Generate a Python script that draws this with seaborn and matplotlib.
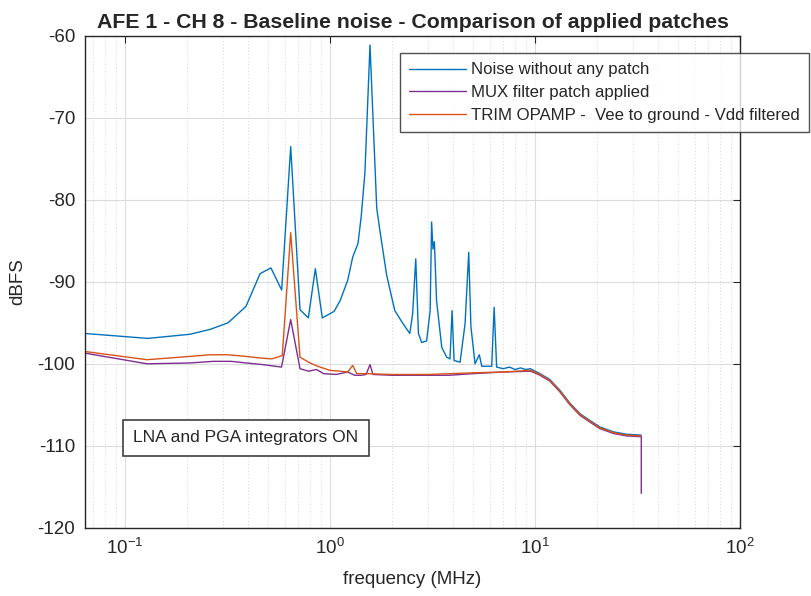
import numpy as np
import pandas as pd
import matplotlib
matplotlib.use("Agg")
import matplotlib.pyplot as plt
import seaborn as sns
from matplotlib.ticker import LogLocator, LogFormatterMathtext, NullFormatter

# ---------------- data ----------------
noise_freq = [0.0638, 0.129, 0.207, 0.26, 0.318, 0.389, 0.456, 0.515, 0.581, 0.643,
              0.714, 0.784, 0.848, 0.917, 1.047, 1.12, 1.22, 1.29, 1.37, 1.42, 1.48,
              1.567, 1.69, 1.75, 1.89, 2.07, 2.27, 2.45, 2.53, 2.62, 2.70, 2.80, 2.96,
              3.08, 3.13, 3.18, 3.23, 3.31, 3.51, 3.71, 3.85, 3.94, 4.03, 4.31, 4.56,
              4.75, 4.87, 5.10, 5.35, 5.50, 6.15, 6.32, 6.50, 7.0, 7.5, 8.0, 8.5, 9.0,
              9.5, 10.0, 10.4, 11.8, 13.2, 14.8, 16.6, 18.5, 20.7, 24.1, 28.0, 33.0]
noise_db = [-96.3, -96.9, -96.4, -95.8, -95.0, -93.0, -89.0, -88.3, -91.0, -73.5,
            -93.4, -94.4, -88.4, -94.4, -93.6, -92.3, -89.8, -87.0, -85.3, -82.0, -76.7,
            -61.1, -81.0, -83.7, -89.2, -93.5, -95.1, -96.3, -93.9, -87.2, -96.3, -97.4, -97.2,
            -93.5, -82.7, -86.0, -85.1, -92.3, -98.0, -99.2, -99.4, -93.5, -99.6, -99.8, -95.1,
            -86.4, -95.5, -100.0, -98.9, -100.3, -100.3, -93.1, -100.4, -100.6, -100.4, -100.7, -100.5, -100.7,
            -100.6, -100.9, -101.1, -101.9, -103.2, -104.8, -106.1, -106.9, -107.7, -108.3, -108.6, -108.7]

mux_freq = [0.0638, 0.128, 0.207, 0.27, 0.33, 0.39, 0.47, 0.58, 0.643, 0.714, 0.784,
            0.86, 0.93, 1.07, 1.22, 1.32, 1.42, 1.50, 1.567, 1.62, 2.0, 3.0, 3.8, 5.0,
            7.0, 9.5, 10.4, 11.8, 13.2, 14.8, 16.6, 18.5, 20.7, 24.1, 28.0, 33.0, 33.0]
mux_db = [-98.7, -100.0, -99.9, -99.7, -99.7, -99.9, -100.1, -100.4, -94.6, -100.6, -100.9,
          -100.7, -101.2, -101.3, -101.0, -101.4, -101.4, -101.3, -100.1, -101.3, -101.4, -101.4, -101.4, -101.2,
          -101.0, -100.9, -101.3, -102.1, -103.4, -105.0, -106.3, -107.1, -107.9, -108.5, -108.8, -108.9, -115.8]

trim_freq = [0.0638, 0.128, 0.207, 0.26, 0.32, 0.39, 0.46, 0.52, 0.585, 0.643, 0.714,
             0.80, 0.87, 1.0, 1.12, 1.22, 1.29, 1.35, 1.5, 2.0, 3.0, 5.0, 7.0, 9.5,
             10.4, 11.8, 13.2, 14.8, 16.6, 18.5, 20.7, 24.1, 28.0, 33.0]
trim_db = [-98.5, -99.5, -99.1, -98.9, -98.9, -99.1, -99.3, -99.4, -99.0, -84.0, -99.2,
           -99.9, -100.3, -100.8, -100.9, -101.0, -100.2, -101.2, -101.2, -101.3, -101.3, -101.1, -101.0, -100.8,
           -101.2, -102.0, -103.3, -104.9, -106.2, -107.0, -107.8, -108.4, -108.7, -108.8]

series_names = ["Noise without any patch", "MUX filter patch applied",
                "TRIM OPAMP -  Vee to ground - Vdd filtered"]
series_colors = ["#0072BD", "#7E2F8E", "#D95319"]
y_ticks = [-120, -110, -100, -90, -80, -70, -60]
title_text = "AFE 1 - CH 8 - Baseline noise - Comparison of applied patches"
annot_text = "LNA and PGA integrators ON"

# ---------------- build long-form table ----------------
frames = []
for name, f, d in zip(series_names, [noise_freq, mux_freq, trim_freq],
                      [noise_db, mux_db, trim_db]):
    frames.append(pd.DataFrame({"freq": f, "db": d, "series": name}))
df = pd.concat(frames, ignore_index=True)

sns.set_style("white")
plt.rcParams["font.family"] = ["Liberation Sans", "DejaVu Sans"]
plt.rcParams["mathtext.fontset"] = "custom"
plt.rcParams["mathtext.rm"] = "Liberation Sans"
plt.rcParams["mathtext.it"] = "Liberation Sans"

fig = plt.figure(figsize=(8.12, 5.96), dpi=100)
ax = fig.add_axes([0.1047, 0.1146, 0.8066, 0.825])

sns.lineplot(data=df, x="freq", y="db", hue="series", hue_order=series_names,
             palette=series_colors, estimator=None, sort=False, units="series",
             linewidth=1.0, ax=ax, legend=True)

ax.set_xscale("log")
ax.set_xlim(0.0638, 100)
ax.set_ylim(-120, -60)
ax.set_yticks(y_ticks)
ax.set_yticklabels([str(v) for v in y_ticks])
ax.xaxis.set_major_locator(LogLocator(base=10, numticks=10))
ax.xaxis.set_major_formatter(LogFormatterMathtext())
ax.xaxis.set_minor_locator(LogLocator(base=10, subs=np.arange(2, 10), numticks=20))
ax.xaxis.set_minor_formatter(NullFormatter())

ax.grid(True, which="major", axis="both", color="#dcdcdc", linewidth=0.8, linestyle="-")
ax.grid(True, which="minor", axis="x", color="#c8c8c8", linewidth=0.6, linestyle=(0, (1, 3)))
ax.set_axisbelow(True)

ax.tick_params(axis="both", which="major", direction="in", length=5, width=0.8,
               top=True, right=True, labelsize=13.5, colors="#262626", pad=7)
ax.tick_params(axis="x", which="minor", length=0)
for s in ax.spines.values():
    s.set_color("#262626")
    s.set_linewidth(1.0)

ax.set_xlabel("frequency (MHz)", fontsize=13.5, color="#262626", labelpad=10)
ax.set_ylabel("dBFS", fontsize=13.5, color="#262626", labelpad=8)
ax.set_title(title_text, fontsize=15.3, fontweight="bold", pad=6)

leg = ax.legend(loc="upper left", bbox_to_anchor=(0.481, 0.965), frameon=True,
                fancybox=False, fontsize=12.1, handlelength=3.4, borderpad=0.55,
                labelspacing=0.45, handletextpad=0.3, borderaxespad=0)
leg.get_frame().set_edgecolor("#262626")
leg.get_frame().set_linewidth(1.0)

ax.text(0.2455, 0.183, annot_text, transform=ax.transAxes, fontsize=12.5,
        color="#262626", ha="center", va="center",
        bbox=dict(boxstyle="square,pad=0.6", fc="white", ec="#404040", lw=1.2))

fig.savefig("out.png", dpi=100)
